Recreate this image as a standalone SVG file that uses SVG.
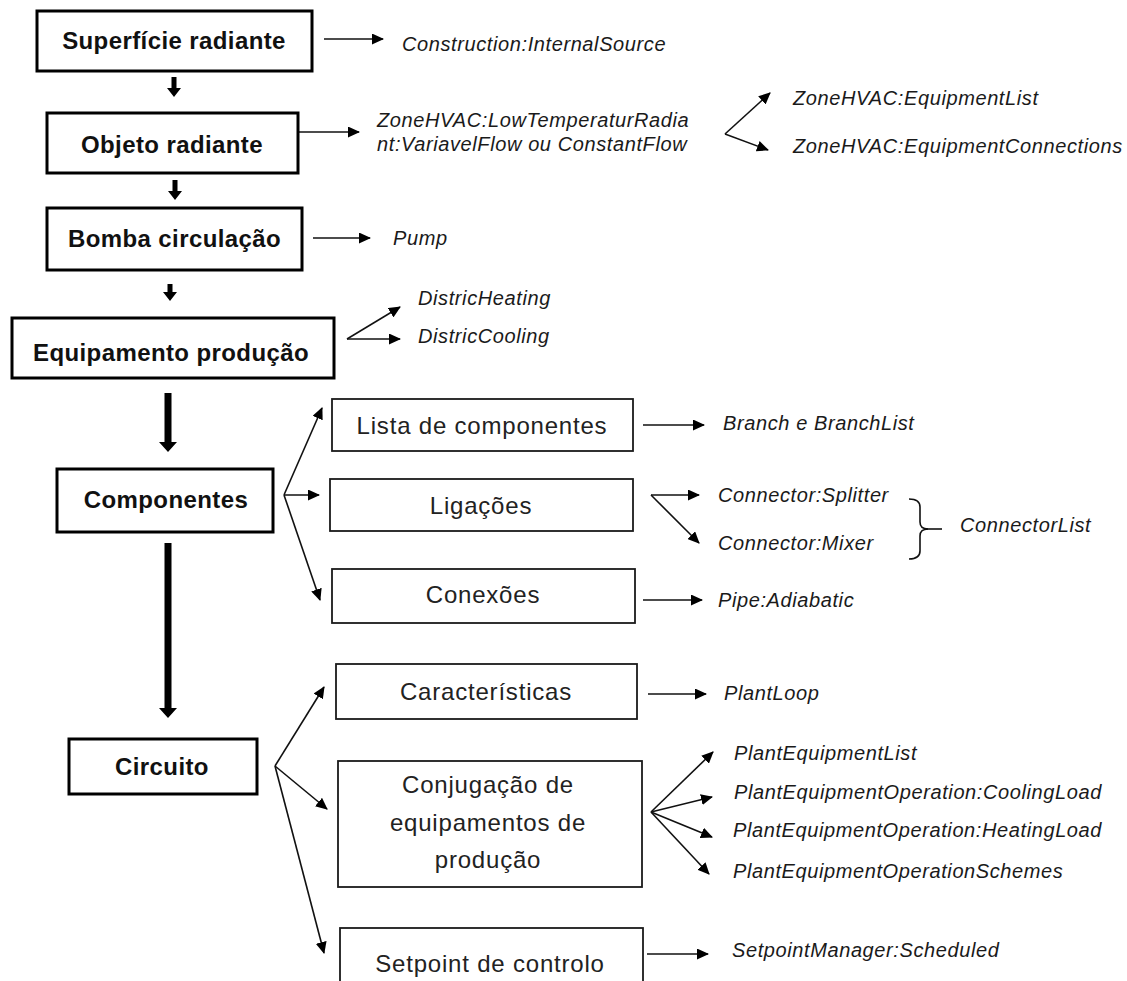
<svg xmlns="http://www.w3.org/2000/svg" width="1127" height="981" viewBox="0 0 1127 981">
<style>
.bbox{fill:#fff;stroke:#000;stroke-width:3}
.nbox{fill:#fff;stroke:#1a1a1a;stroke-width:1.8}
.bt{font-family:"Liberation Sans",Arial,sans-serif;font-weight:bold;font-size:24px;letter-spacing:0.4px;fill:#111;text-anchor:middle}
.nt{font-family:"Liberation Sans",Arial,sans-serif;font-size:24px;letter-spacing:0.8px;fill:#222;text-anchor:middle}
.it{font-family:"Liberation Sans",Arial,sans-serif;font-style:italic;font-size:20px;letter-spacing:0.6px;fill:#1a1a1a}
.ln{fill:none;stroke:#111;stroke-width:1.6;marker-end:url(#ah)}
.thick{fill:#000}
</style>
<defs>
<marker id="ah" markerUnits="userSpaceOnUse" markerWidth="12" markerHeight="11" refX="11" refY="5.5" orient="auto">
<path d="M0,0 L12,5.5 L0,11 z" fill="#000"/>
</marker>
</defs>
<rect width="1127" height="981" fill="#fff"/>

<g id="connectors">
<polygon class="thick" points="171.5,77 176.5,77 176.5,88 181,88 174,97 167,88 171.5,88"/>
<polygon class="thick" points="172.5,180 177.5,180 177.5,191 182,191 175,200 168,191 172.5,191"/>
<polygon class="thick" points="167.5,284 172.5,284 172.5,292 177,292 170,301 163,292 167.5,292"/>
<polygon class="thick" points="164.5,393 171.5,393 171.5,442 177,442 168,452 159,442 164.5,442"/>
<polygon class="thick" points="164.5,543 171.5,543 171.5,708 177,708 168,718 159,708 164.5,708"/>
<line class="ln" x1="324" y1="39" x2="383" y2="39"/>
<line class="ln" x1="298" y1="132" x2="359" y2="132"/>
<line class="ln" x1="725" y1="134" x2="770" y2="93"/>
<line class="ln" x1="725" y1="134" x2="768" y2="150"/>
<line class="ln" x1="313" y1="238" x2="370" y2="238"/>
<line class="ln" x1="347" y1="339" x2="400" y2="307"/>
<line class="ln" x1="347" y1="339" x2="400" y2="339"/>
<line class="ln" x1="284" y1="495" x2="322" y2="408"/>
<line class="ln" x1="284" y1="495" x2="319" y2="495"/>
<line class="ln" x1="284" y1="495" x2="320" y2="600"/>
<line class="ln" x1="643" y1="425" x2="704" y2="425"/>
<line class="ln" x1="651" y1="495" x2="699" y2="495"/>
<line class="ln" x1="651" y1="495" x2="699" y2="543"/>
<line class="ln" x1="643" y1="600" x2="702" y2="600"/>
<path d="M909,499 Q920,499 920,507 L920,522 Q920,529 928,529 Q920,529 920,536 L920,551 Q920,559 909,559" fill="none" stroke="#111" stroke-width="1.6"/>
<line x1="926" y1="529" x2="942" y2="529" stroke="#111" stroke-width="1.6"/>
<line class="ln" x1="275" y1="766" x2="324" y2="687"/>
<line class="ln" x1="275" y1="766" x2="327" y2="809"/>
<line class="ln" x1="275" y1="766" x2="324" y2="953"/>
<line class="ln" x1="648" y1="694" x2="706" y2="694"/>
<line class="ln" x1="651" y1="812" x2="713" y2="752"/>
<line class="ln" x1="651" y1="812" x2="712" y2="797"/>
<line class="ln" x1="651" y1="812" x2="712" y2="837"/>
<line class="ln" x1="651" y1="812" x2="709" y2="874"/>
<line class="ln" x1="647" y1="954" x2="708" y2="954"/>
</g>

<g id="superficie">
<rect class="bbox" x="37" y="11" width="275" height="60"/>
<text class="bt" x="174" y="49">Superfície radiante</text>
</g>
<g id="construction"><text class="it" x="402" y="51">Construction:InternalSource</text></g>

<g id="objeto">
<rect class="bbox" x="47" y="113" width="251" height="60"/>
<text class="bt" x="172" y="153">Objeto radiante</text>
</g>
<g id="zonehvac-radiant">
<text class="it" x="377" y="127">ZoneHVAC:LowTemperaturRadia</text>
<text class="it" x="377" y="151">nt:VariavelFlow ou ConstantFlow</text>
</g>
<g id="equiplist"><text class="it" x="793" y="105">ZoneHVAC:EquipmentList</text></g>
<g id="equipconn"><text class="it" x="793" y="153">ZoneHVAC:EquipmentConnections</text></g>

<g id="bomba">
<rect class="bbox" x="47" y="208" width="255" height="62"/>
<text class="bt" x="174.5" y="247">Bomba circulação</text>
</g>
<g id="pump"><text class="it" x="393" y="245">Pump</text></g>

<g id="equipamento">
<rect class="bbox" x="12" y="318" width="322" height="60"/>
<text class="bt" x="171" y="361">Equipamento produção</text>
</g>
<g id="heating"><text class="it" x="418" y="305">DistricHeating</text></g>
<g id="cooling"><text class="it" x="418" y="343">DistricCooling</text></g>

<g id="componentes">
<rect class="bbox" x="57" y="469" width="216" height="63"/>
<text class="bt" x="166" y="508">Componentes</text>
</g>

<g id="lista">
<rect class="nbox" x="332" y="399" width="301" height="52"/>
<text class="nt" x="482" y="434">Lista de componentes</text>
</g>
<g id="branch"><text class="it" x="723" y="430">Branch e BranchList</text></g>

<g id="ligacoes">
<rect class="nbox" x="330" y="479" width="303" height="52"/>
<text class="nt" x="481" y="514">Ligações</text>
</g>
<g id="splitter"><text class="it" x="718" y="502">Connector:Splitter</text></g>
<g id="mixer"><text class="it" x="718" y="550">Connector:Mixer</text></g>
<g id="connectorlist"><text class="it" x="960" y="532">ConnectorList</text></g>

<g id="conexoes">
<rect class="nbox" x="332" y="569" width="303" height="54"/>
<text class="nt" x="483" y="603">Conexões</text>
</g>
<g id="pipe"><text class="it" x="718" y="607">Pipe:Adiabatic</text></g>

<g id="circuito">
<rect class="bbox" x="69" y="739" width="188" height="55"/>
<text class="bt" x="162" y="775">Circuito</text>
</g>

<g id="caracteristicas">
<rect class="nbox" x="336" y="664" width="301" height="55"/>
<text class="nt" x="486" y="700">Características</text>
</g>
<g id="plantloop"><text class="it" x="724" y="700">PlantLoop</text></g>

<g id="conjugacao">
<rect class="nbox" x="338" y="761" width="304" height="126"/>
<text class="nt" x="488" y="793">Conjugação de</text>
<text class="nt" x="488" y="831">equipamentos de</text>
<text class="nt" x="488" y="868">produção</text>
</g>
<g id="pel"><text class="it" x="734" y="760">PlantEquipmentList</text></g>
<g id="peocl"><text class="it" x="734" y="799">PlantEquipmentOperation:CoolingLoad</text></g>
<g id="peohl"><text class="it" x="733" y="837">PlantEquipmentOperation:HeatingLoad</text></g>
<g id="peos"><text class="it" x="733" y="878">PlantEquipmentOperationSchemes</text></g>

<g id="setpoint">
<rect class="nbox" x="340" y="928" width="303" height="60"/>
<text class="nt" x="490" y="972">Setpoint de controlo</text>
</g>
<g id="spm"><text class="it" x="732" y="957">SetpointManager:Scheduled</text></g>
</svg>
